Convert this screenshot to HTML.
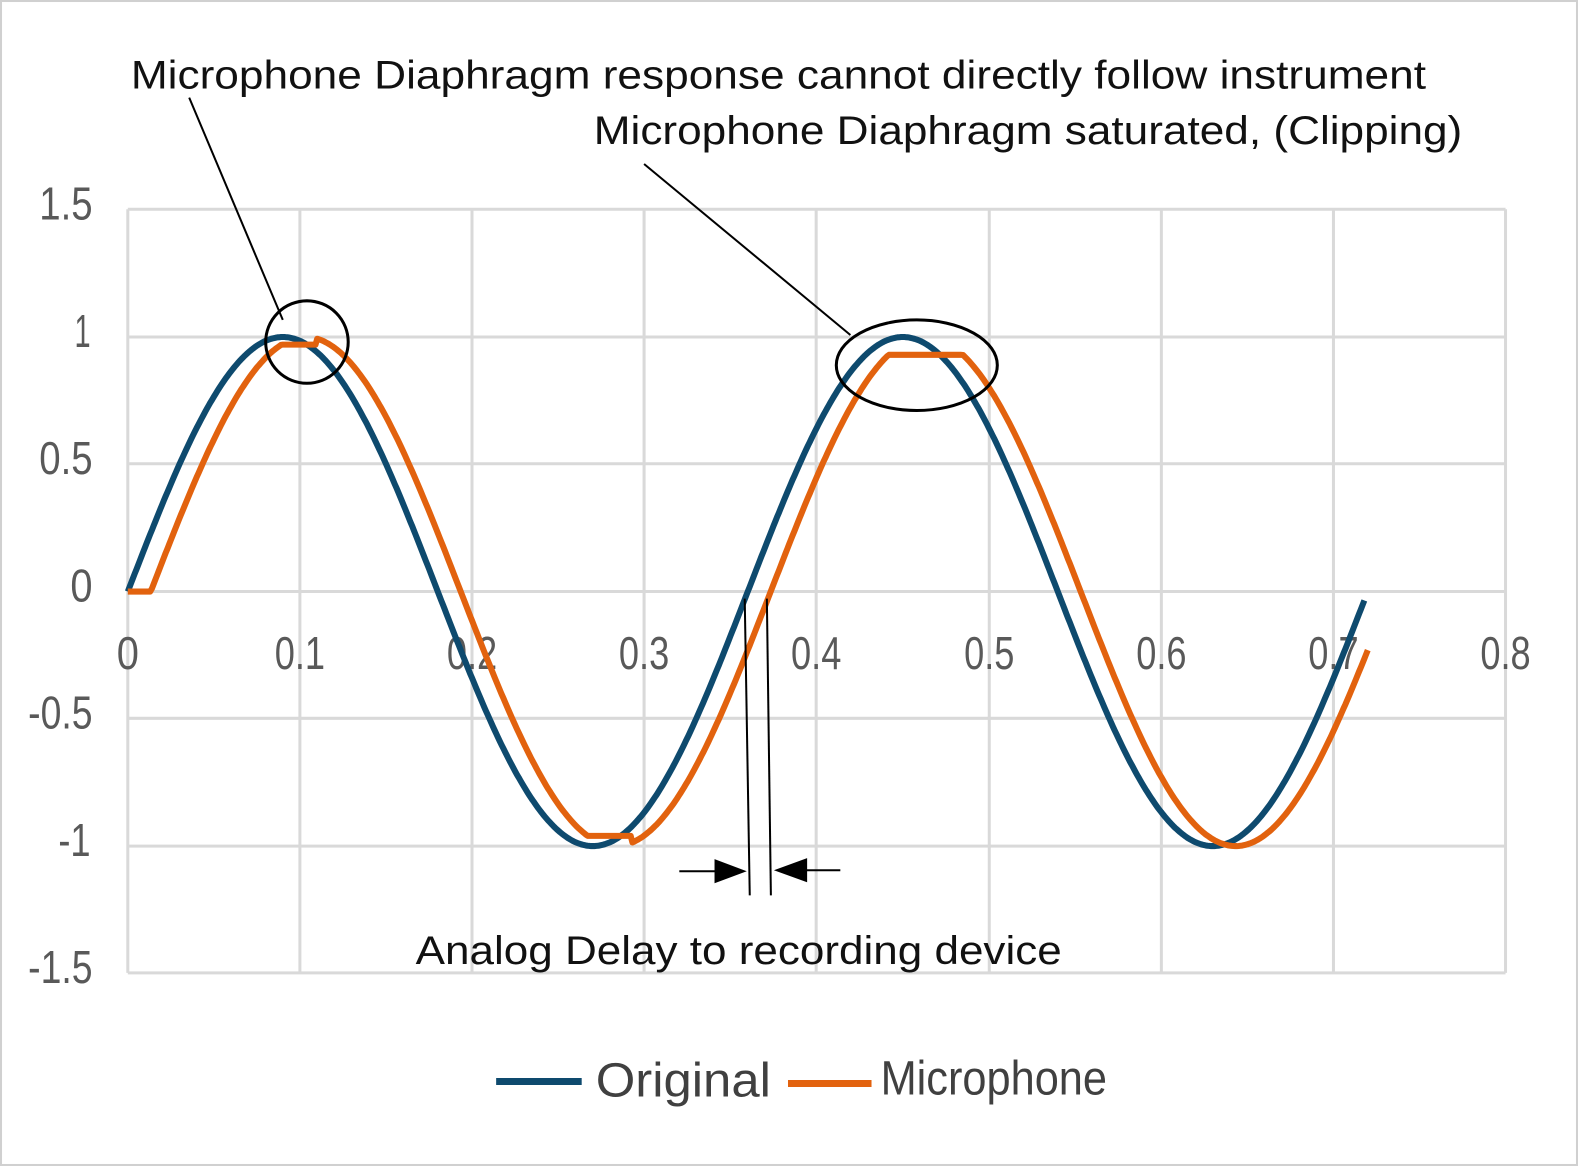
<!DOCTYPE html>
<html><head><meta charset="utf-8"><style>
html,body{margin:0;padding:0;background:#fff}
svg{display:block}
</style></head><body>
<svg id="s" width="1578" height="1166" viewBox="0 0 1568 1159" preserveAspectRatio="none" xmlns="http://www.w3.org/2000/svg" font-family="Liberation Sans, sans-serif">
<rect x="1" y="1" width="1566" height="1157" fill="#fff" stroke="#d0d0d0" stroke-width="2"/>
<g stroke="#d9d9d9" stroke-width="3">
<line x1="127" y1="208" x2="1496" y2="208"/>
<line x1="127" y1="335" x2="1496" y2="335"/>
<line x1="127" y1="461" x2="1496" y2="461"/>
<line x1="127" y1="588" x2="1496" y2="588"/>
<line x1="127" y1="714" x2="1496" y2="714"/>
<line x1="127" y1="841" x2="1496" y2="841"/>
<line x1="127" y1="967" x2="1496" y2="967"/>
<line x1="127" y1="208" x2="127" y2="967"/>
<line x1="298" y1="208" x2="298" y2="967"/>
<line x1="469" y1="208" x2="469" y2="967"/>
<line x1="640" y1="208" x2="640" y2="967"/>
<line x1="811" y1="208" x2="811" y2="967"/>
<line x1="983" y1="208" x2="983" y2="967"/>
<line x1="1154" y1="208" x2="1154" y2="967"/>
<line x1="1325" y1="208" x2="1325" y2="967"/>
<line x1="1496" y1="208" x2="1496" y2="967"/>
</g>
<g fill="#595959" font-size="46" text-anchor="end">
<text x="92" y="218" textLength="53" lengthAdjust="spacingAndGlyphs">1.5</text>
<text x="90" y="345" textLength="16" lengthAdjust="spacingAndGlyphs">1</text>
<text x="92" y="471" textLength="53" lengthAdjust="spacingAndGlyphs">0.5</text>
<text x="92" y="598" textLength="22" lengthAdjust="spacingAndGlyphs">0</text>
<text x="92" y="724" textLength="64" lengthAdjust="spacingAndGlyphs">-0.5</text>
<text x="90" y="851" textLength="32" lengthAdjust="spacingAndGlyphs">-1</text>
<text x="92" y="977" textLength="64" lengthAdjust="spacingAndGlyphs">-1.5</text>
</g>
<g fill="#595959" font-size="46" text-anchor="middle">
<text x="127" y="665" textLength="22" lengthAdjust="spacingAndGlyphs">0</text>
<text x="298" y="665" textLength="50" lengthAdjust="spacingAndGlyphs">0.1</text>
<text x="469" y="665" textLength="50" lengthAdjust="spacingAndGlyphs">0.2</text>
<text x="640" y="665" textLength="50" lengthAdjust="spacingAndGlyphs">0.3</text>
<text x="811" y="665" textLength="50" lengthAdjust="spacingAndGlyphs">0.4</text>
<text x="983" y="665" textLength="50" lengthAdjust="spacingAndGlyphs">0.5</text>
<text x="1154" y="665" textLength="50" lengthAdjust="spacingAndGlyphs">0.6</text>
<text x="1325" y="665" textLength="50" lengthAdjust="spacingAndGlyphs">0.7</text>
<text x="1496" y="665" textLength="50" lengthAdjust="spacingAndGlyphs">0.8</text>
</g>
<path id="blue" fill="none" stroke="#0e4a6e" stroke-width="6" stroke-linejoin="round"/>
<path id="orange" fill="none" stroke="#e2620e" stroke-width="6" stroke-linejoin="round"/>
<g fill="none" stroke="#000" stroke-width="3">
<circle cx="305" cy="340" r="41"/>
<ellipse cx="911" cy="363" rx="80" ry="45"/>
</g>
<g stroke="#000" stroke-width="2">
<line x1="188" y1="97" x2="281" y2="318"/>
<line x1="640" y1="163" x2="845" y2="333"/>
<line x1="740" y1="595" x2="745" y2="890"/>
<line x1="762" y1="595" x2="766" y2="890"/>
<line x1="675" y1="866" x2="715" y2="866"/>
<line x1="800" y1="865" x2="835" y2="865"/>
</g>
<polygon points="710,854 742,866 710,878" fill="#000"/>
<polygon points="802,853 769,865 802,877" fill="#000"/>
<g fill="#111" font-size="40">
<text x="130" y="88" textLength="1287" lengthAdjust="spacingAndGlyphs">Microphone Diaphragm response cannot directly follow instrument</text>
<text x="590" y="143" textLength="863" lengthAdjust="spacingAndGlyphs">Microphone Diaphragm saturated, (Clipping)</text>
<text x="413" y="958" textLength="642" lengthAdjust="spacingAndGlyphs">Analog Delay to recording device</text>
</g>
<line x1="493" y1="1075" x2="578" y2="1075" stroke="#0e4a6e" stroke-width="7"/>
<text x="592" y="1090" font-size="48" fill="#404040" textLength="174" lengthAdjust="spacingAndGlyphs">Original</text>
<line x1="783" y1="1077" x2="866" y2="1077" stroke="#e2620e" stroke-width="7"/>
<text x="875" y="1088" font-size="48" fill="#404040" textLength="225" lengthAdjust="spacingAndGlyphs">Microphone</text>
</svg>
<script>
function X(x){return 127+x*1711.25}
function Y(y){return 588-y*253}
var b="",o="";
for(var i=0;i<=718;i++){var x=i/1000;var y=Math.sin(2*Math.PI*x/0.36);b+=(i?"L":"M")+X(x).toFixed(1)+" "+Y(y).toFixed(1);}
for(var i=0;i<=720;i++){var x=i/1000;var y;
 if(x<0.0133)y=0;else y=Math.sin(2*Math.PI*(x-0.0133)/0.36);
 if(x>0.05&&x<0.2){ if(x<0.1095) y=Math.min(y,0.97); }
 if(x>0.2&&x<0.35){ if(x<0.2925) y=Math.max(y,-0.96); }
 if(x>0.4&&x<0.55){ y=Math.min(y,0.93); }
 o+=(i?"L":"M")+X(x).toFixed(1)+" "+Y(y).toFixed(1);}
document.getElementById("blue").setAttribute("d",b);
document.getElementById("orange").setAttribute("d",o);
</script>
</body></html>
